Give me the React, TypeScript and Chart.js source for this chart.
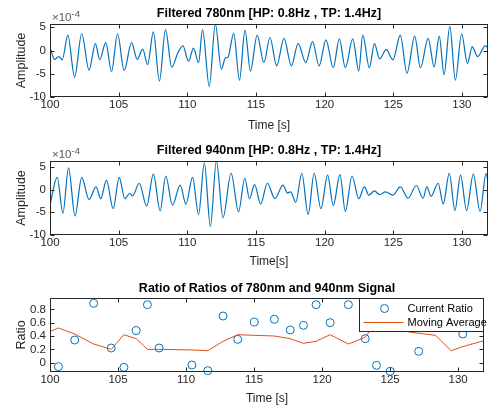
import React, { useEffect, useRef } from "react";
import { Chart, registerables } from "chart.js";

Chart.register(...registerables);

// ---------- data ----------
// Filtered 780nm signal, amplitude in units of 1e-4 (local extrema of the trace)
const time780 = [
  100.0, 100.33, 100.65, 100.89, 101.3, 101.79, 102.31, 102.84, 103.31, 103.62,
  104.06, 104.48, 104.92, 105.4, 105.94, 106.35, 106.75, 107.11, 107.53, 107.97,
  108.41, 108.87, 109.3, 109.68, 110.09, 110.45, 110.82, 111.11, 111.6, 112.04,
  112.48, 112.78, 112.95, 113.38, 113.8, 114.2, 114.6, 115.09, 115.58, 116.02,
  116.51, 117.04, 117.58, 118.07, 118.63, 119.12, 119.6, 120.1, 120.63, 121.07,
  121.51, 122.05, 122.49, 122.78, 123.26, 123.63, 124.0, 124.49, 124.98, 125.51,
  126.0, 126.56, 126.98, 127.54, 127.98, 128.35, 128.7, 129.12, 129.52, 129.98,
  130.4, 130.75, 131.15, 131.7, 132.0,
];
const amp780 = [
  0.7, -1.9, -1.3, -2.0, 3.3, -5.7, 3.6, -4.2, 1.5, -2.0,
  1.7, -4.5, 3.6, -4.3, 1.7, -1.9, 0.3, -3.0, 4.0, -6.6,
  4.5, -3.6, -0.6, 1.0, -2.3, 0.5, -2.6, 4.5, -7.7, 5.7,
  -4.0, -1.6, -1.5, 3.7, -6.4, 4.4, -4.4, 3.3, -2.6, 2.8,
  -3.3, 2.6, -3.3, 1.5, -2.6, 1.9, -3.3, 2.3, -3.7, 2.5,
  -3.7, 2.5, -4.4, 3.3, -3.7, 1.5, -1.8, 0.2, -2.0, 3.3,
  -4.9, 3.1, -3.7, 2.6, -3.5, 3.1, -5.2, 5.2, -6.4, 3.6,
  -2.8, 0.8, -1.3, 1.0, 0.3,
];

// Filtered 940nm signal, amplitude in units of 1e-4
const time940 = [
  100.0, 100.52, 100.94, 101.35, 101.82, 102.31, 102.84, 103.35, 103.7, 104.11,
  104.6, 105.04, 105.45, 105.82, 106.01, 106.5, 107.04, 107.53, 108.02, 108.43,
  108.92, 109.48, 109.9, 110.38, 110.82, 111.24, 111.68, 112.12, 112.6, 113.19,
  113.73, 114.19, 114.53, 114.9, 115.34, 115.83, 116.38, 116.97, 117.29, 117.53,
  117.9, 118.34, 118.8, 119.24, 119.73, 120.22, 120.63, 121.12, 121.51, 122.0,
  122.49, 122.9, 123.22, 123.63, 124.0, 124.44, 124.98, 125.51, 126.08, 126.68,
  127.17, 127.45, 127.75, 128.27, 128.64, 129.08, 129.49, 129.9, 130.34, 130.83,
  131.32, 131.76, 132.05,
];
const amp940 = [
  -3.4, 2.7, -5.2, 4.8, -5.8, 2.7, -2.2, 0.6, -2.0, 2.1,
  -4.2, 2.7, -2.0, -0.8, -1.4, 1.4, -3.6, 3.4, -4.7, 3.0,
  -3.4, 1.0, -3.2, 2.7, -5.5, 5.9, -8.1, 6.3, -6.2, 3.6,
  -4.9, 2.5, -2.0, 1.1, -3.2, 1.4, -2.0, 1.0, -0.7, -0.5,
  -2.8, 3.6, -5.5, 3.6, -4.2, 3.2, -3.5, 3.3, -4.8, 3.0,
  -2.0, 0.6, -1.2, -0.3, -1.1, -0.5, -1.2, 0.6, -1.9, 0.9,
  -1.9, 0.6, -1.5, 1.4, -3.2, 3.6, -4.6, 3.2, -4.6, 3.4,
  -4.8, 3.5, -2.5,
];

// Ratio of ratios
const ratioTime = [
  100.62, 101.82, 103.21, 104.5, 105.43, 106.33, 107.16, 108.02, 110.43, 111.6,
  112.72, 113.8, 115.02, 116.49, 117.66, 118.63, 119.56, 120.59, 121.93, 123.17,
  124.0, 125.0, 127.1, 130.34,
];
const ratioValue = [
  -0.06, 0.34, 0.89, 0.22, -0.07, 0.48, 0.87, 0.22, -0.035, -0.12,
  0.7, 0.35, 0.61, 0.65, 0.49, 0.56, 0.87, 0.6, 0.87, 0.36,
  -0.04, -0.13, 0.17, 0.43,
];
const avgTime = [
  100.0, 100.62, 101.82, 103.21, 104.5, 105.43, 106.33, 107.16, 108.02, 110.43,
  111.6, 112.72, 113.8, 115.02, 116.49, 117.66, 118.63, 119.56, 120.59, 121.93,
  123.17, 124.0, 125.0, 126.4, 128.34, 129.49, 130.34, 131.9,
];
const avgValue = [
  0.47, 0.52, 0.43, 0.28, 0.2, 0.42, 0.36, 0.2, 0.2, 0.19,
  0.18, 0.32, 0.42, 0.41, 0.4, 0.36, 0.29, 0.32, 0.42, 0.28,
  0.38, 0.62, 0.55, 0.46, 0.41, 0.18, 0.24, 0.33,
];

const xTicks = [100, 105, 110, 115, 120, 125, 130];
const ampTicks = [-10, -5, 0, 5];
const ratioTicks = [0, 0.2, 0.4, 0.6, 0.8];

const titles = [
  "Filtered 780nm [HP: 0.8Hz , TP: 1.4Hz]",
  "Filtered 940nm [HP: 0.8Hz , TP: 1.4Hz]",
  "Ratio of Ratios of 780nm and 940nm Signal",
];
const xLabels = ["Time [s]", "Time[s]", "Time [s]"];
const yLabels = ["Amplitude", "Amplitude", "Ratio"];
const seriesNames = ["Current Ratio", "Moving Average"];

// ---------- styling ----------
const FONT = "'Liberation Sans', Arial, Helvetica, sans-serif";
const AXIS = "#262626";
const BLUE = "#0072BD";
const ORANGE = "#D95319";
const W = 489;
const TICK_SIZE = 11.5;

const pts = (xs: number[], ys: number[]) => xs.map((x, i) => ({ x, y: ys[i] }));

const matlabAxes = {
  id: "matlabAxes",
  afterDraw(chart: any, _args: any, opts: any) {
    const { ctx, chartArea: a, scales } = chart;
    const xs = scales.x;
    const ys = scales.y;
    ctx.save();
    const L = Math.round(a.left) + 0.5;
    const R = Math.round(a.right) - 0.5;
    const T = Math.round(a.top) + 0.5;
    const B = Math.round(a.bottom) - 0.5;
    ctx.strokeStyle = AXIS;
    ctx.lineWidth = 1;
    ctx.strokeRect(L, T, R - L, B - T);
    const tl = 4;
    ctx.beginPath();
    xs.ticks.forEach((t: any) => {
      const px = Math.round(xs.getPixelForValue(t.value)) + 0.5;
      ctx.moveTo(px, B);
      ctx.lineTo(px, B - tl);
      ctx.moveTo(px, T);
      ctx.lineTo(px, T + tl);
    });
    ys.ticks.forEach((t: any) => {
      const py = Math.round(ys.getPixelForValue(t.value)) + 0.5;
      ctx.moveTo(L, py);
      ctx.lineTo(L + tl, py);
      ctx.moveTo(R, py);
      ctx.lineTo(R - tl, py);
    });
    ctx.stroke();

    if (opts.exponent) {
      ctx.fillStyle = "#555";
      ctx.textBaseline = "alphabetic";
      ctx.textAlign = "left";
      ctx.font = `11.5px ${FONT}`;
      const base = "\u00d710";
      const bx = a.left + 2;
      const by = a.top - 3.5;
      ctx.fillText(base, bx, by);
      const w = ctx.measureText(base).width;
      ctx.font = `9.5px ${FONT}`;
      ctx.fillText(opts.exponent, bx + w, by - 4);
    }

    if (opts.legend) {
      const ds = chart.data.datasets;
      const lx = Math.round(a.right - 125) + 0.5;
      const ly = Math.round(a.top) + 0.5;
      const lw = Math.round(a.right) - 0.5 - lx;
      const lh = 33;
      ctx.fillStyle = "#fff";
      ctx.fillRect(lx, ly, lw, lh);
      ctx.strokeStyle = AXIS;
      ctx.strokeRect(lx, ly, lw, lh);
      ctx.font = `11px ${FONT}`;
      ctx.textBaseline = "middle";
      ctx.textAlign = "left";
      ctx.fillStyle = "#000";
      // entry 1: marker
      const y1 = ly + 10;
      ctx.strokeStyle = ds[0].borderColor;
      ctx.lineWidth = 1;
      ctx.beginPath();
      ctx.arc(lx + 25, y1, 4, 0, Math.PI * 2);
      ctx.stroke();
      ctx.fillText(ds[0].label, lx + 48, y1 + 0.5);
      // entry 2: line
      const y2 = ly + 24;
      ctx.strokeStyle = ds[1].borderColor;
      ctx.beginPath();
      ctx.moveTo(lx + 4, y2);
      ctx.lineTo(lx + 44, y2);
      ctx.stroke();
      ctx.fillText(ds[1].label, lx + 48, y2 + 0.5);
    }
    ctx.restore();
  },
};

type Spec = {
  top: number;
  height: number;
  title: string;
  titlePad: [number, number];
  xLabel: string;
  xLabelPad: number;
  xAxisHeight: number;
  yLabel: string;
  yMin: number;
  yMax: number;
  yTicks: number[];
  yFmt: (v: number) => string;
  datasets: any[];
  exponent?: string;
  legend?: boolean;
};

function buildConfig(p: Spec): any {
  return {
    type: "line",
    data: { datasets: p.datasets },
    options: {
      responsive: false,
      maintainAspectRatio: false,
      animation: false,
      devicePixelRatio: 1,
      events: [],
      layout: { padding: { left: 0, right: 1, top: 0, bottom: 0 } },
      plugins: {
        legend: { display: false },
        tooltip: { enabled: false },
        title: {
          display: true,
          text: p.title,
          color: "#000",
          fullSize: false,
          font: { family: FONT, size: 12.5, weight: "bold", lineHeight: 1.2 },
          padding: { top: p.titlePad[0], bottom: p.titlePad[1] },
        },
        matlabAxes: { exponent: p.exponent, legend: p.legend },
      },
      scales: {
        x: {
          type: "linear",
          min: 100,
          max: 131.9,
          afterBuildTicks: (s: any) => {
            s.ticks = xTicks.map((v) => ({ value: v }));
          },
          afterFit: (s: any) => {
            s.height = p.xAxisHeight;
          },
          grid: { display: false, drawTicks: false },
          border: { display: false },
          ticks: {
            autoSkip: false,
            maxRotation: 0,
            padding: 0.5,
            color: AXIS,
            font: { family: FONT, size: TICK_SIZE },
            callback: (v: number) => String(v),
          },
          title: {
            display: true,
            text: p.xLabel,
            color: AXIS,
            font: { family: FONT, size: 12, lineHeight: 1.2 },
            padding: { top: 0, bottom: p.xLabelPad },
          },
        },
        y: {
          type: "linear",
          min: p.yMin,
          max: p.yMax,
          afterBuildTicks: (s: any) => {
            s.ticks = p.yTicks.map((v) => ({ value: v }));
          },
          afterFit: (s: any) => {
            s.width = 50;
          },
          grid: { display: false, drawTicks: false },
          border: { display: false },
          ticks: {
            autoSkip: false,
            padding: 4,
            color: AXIS,
            font: { family: FONT, size: TICK_SIZE },
            callback: (v: number) => p.yFmt(v),
          },
          title: {
            display: true,
            text: p.yLabel,
            color: AXIS,
            font: { family: FONT, size: 12.5, lineHeight: 1.2 },
            padding: { top: 14.5, bottom: 0 },
          },
        },
      },
    },
    plugins: [matlabAxes],
  };
}

const signalDataset = (xs: number[], ys: number[]) => ({
  label: "signal",
  data: pts(xs, ys),
  borderColor: BLUE,
  borderWidth: 1.2,
  pointRadius: 0,
  cubicInterpolationMode: "monotone",
  fill: false,
});

const ampFmt = (v: number) => String(v);
const ratioFmt = (v: number) => (v === 0 ? "0" : String(Math.round(v * 10) / 10));

const specs: Spec[] = [
  {
    top: 0,
    height: 135,
    title: titles[0],
    titlePad: [6, 3],
    xLabel: xLabels[0],
    xLabelPad: 2.3,
    xAxisHeight: 38,
    yLabel: yLabels[0],
    yMin: -10,
    yMax: 5.7,
    yTicks: ampTicks,
    yFmt: ampFmt,
    datasets: [signalDataset(time780, amp780)],
    exponent: "-4",
  },
  {
    top: 135,
    height: 135,
    title: titles[1],
    titlePad: [8.5, 2.5],
    xLabel: xLabels[1],
    xLabelPad: 0.8,
    xAxisHeight: 35,
    yLabel: yLabels[1],
    yMin: -10,
    yMax: 6.3,
    yTicks: ampTicks,
    yFmt: ampFmt,
    datasets: [signalDataset(time940, amp940)],
    exponent: "-4",
  },
  {
    top: 270,
    height: 137,
    title: titles[2],
    titlePad: [11.5, 1.5],
    xLabel: xLabels[2],
    xLabelPad: 1.3,
    xAxisHeight: 35,
    yLabel: yLabels[2],
    yMin: -0.14,
    yMax: 0.97,
    yTicks: ratioTicks,
    yFmt: ratioFmt,
    legend: true,
    datasets: [
      {
        label: seriesNames[0],
        data: pts(ratioTime, ratioValue),
        showLine: false,
        borderColor: BLUE,
        backgroundColor: "rgba(0,0,0,0)",
        pointRadius: 4,
        pointBorderWidth: 1,
        pointBorderColor: BLUE,
        pointBackgroundColor: "rgba(0,0,0,0)",
        clip: false,
        order: 1,
      },
      {
        label: seriesNames[1],
        data: pts(avgTime, avgValue),
        borderColor: ORANGE,
        borderWidth: 1,
        pointRadius: 0,
        tension: 0,
        fill: false,
        order: 0,
      },
    ],
  },
];

function Panel({ spec }: { spec: Spec }) {
  const ref = useRef<HTMLCanvasElement | null>(null);
  useEffect(() => {
    if (!ref.current) return;
    const chart = new Chart(ref.current, buildConfig(spec));
    return () => chart.destroy();
  }, [spec]);
  return (
    <canvas
      ref={ref}
      width={W}
      height={spec.height}
      style={{ position: "absolute", left: 0, top: spec.top, width: W, height: spec.height, display: "block" }}
    />
  );
}

export default function App() {
  return (
    <div
      style={{
        position: "fixed",
        left: 0,
        top: 0,
        width: W,
        height: 407,
        background: "#fff",
        overflow: "hidden",
      }}
    >
      {specs.map((s, i) => (
        <Panel key={i} spec={s} />
      ))}
    </div>
  );
}
